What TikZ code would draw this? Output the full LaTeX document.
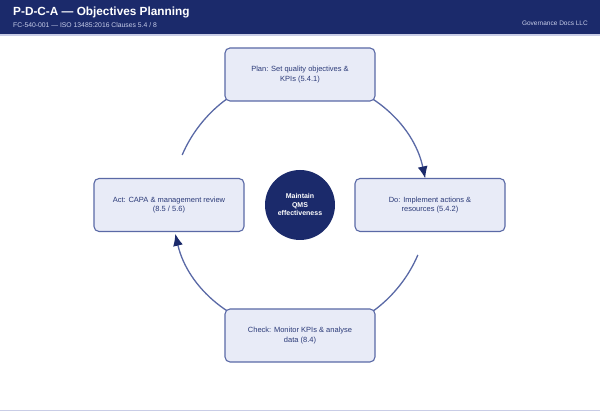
\documentclass[tikz,border=0pt]{standalone}
\usepackage{fontspec}
\setmainfont{Liberation Sans}
\usetikzlibrary{arrows.meta}
\definecolor{navy}{HTML}{1B2A6B}
\definecolor{boxfill}{HTML}{E8EBF7}
\definecolor{boxline}{HTML}{5A69A6}
\definecolor{boxtext}{HTML}{2B3A78}
\definecolor{stripe}{HTML}{C9CDE6}
\definecolor{subtxt}{HTML}{C8CEEA}
\tikzset{
  phase/.style={draw=boxline, fill=boxfill, line width=1.1pt, rounded corners=5pt,
    minimum width=150pt, minimum height=53pt, align=center,
    font=\fontsize{7.5}{9.5}\selectfont, text=boxtext},
  hub/.style={circle, fill=navy, minimum size=70pt, inner sep=0pt, align=center,
    text=white, font=\bfseries\fontsize{7}{8.5}\selectfont},
  cyc/.style={draw=boxline, line width=1.3pt, -{Latex[length=12pt,width=10pt,color=navy]}, shorten >=0pt},
}
\begin{document}
\begin{tikzpicture}[x=1pt,y=1pt]
\useasboundingbox (0,0) rectangle (600,411);
\fill[white] (0,0) rectangle (600,411);
% header
\fill[navy] (0,376) rectangle (600,411);
\draw[stripe, line width=1.5pt] (0,376) -- (600,376);
\node[anchor=west, text=white, font=\bfseries\fontsize{11.8}{14}\selectfont, inner sep=0pt] (title) at (13,398.5) {P-D-C-A — Objectives Planning};
\node[anchor=west, text=subtxt, font=\fontsize{6.8}{8}\selectfont, inner sep=0pt] (sub) at (13,386) {FC-540-001 — ISO 13485:2016 Clauses 5.4 / 8};
\node[anchor=east, text=subtxt, font=\fontsize{6.5}{8}\selectfont, inner sep=0pt] (org) at (588,388) {Governance Docs LLC};
\draw[stripe, line width=1pt] (0,0.5) -- (600,0.5);
% cycle arcs
\coordinate (c) at (300,206);
\draw[cyc] (c) ++(157:128) arc (157:95:128);
\draw[cyc] (c) ++(85:128) arc (85:12:128);
\draw[cyc] (c) ++(-23:128) arc (-23:-85:128);
\draw[cyc] (c) ++(-95:128) arc (-95:-167:128);
% nodes
\node[phase] (plan) at (300,336.5) {Plan: Set quality objectives \&\\KPIs (5.4.1)};
\node[phase] (do) at (430,206) {Do: Implement actions \&\\resources (5.4.2)};
\node[phase] (check) at (300,75.5) {Check: Monitor KPIs \& analyse\\data (8.4)};
\node[phase] (act) at (169,206) {Act: CAPA \& management review\\(8.5 / 5.6)};
\node[hub] (hub) at (c) {Maintain\\QMS\\effectiveness};
\end{tikzpicture}
\end{document}
